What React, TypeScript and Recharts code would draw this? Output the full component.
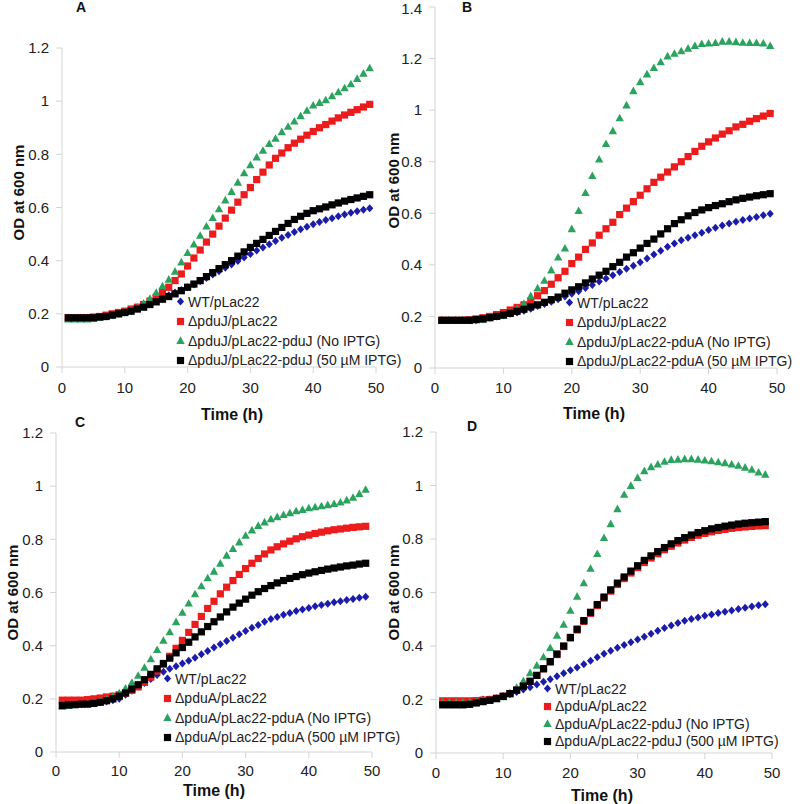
import { ScatterChart, Scatter, XAxis, YAxis, Legend, Label } from 'recharts'

// sampling times (h)
const HOURS = [
  1, 2, 3, 4, 5, 6, 7, 8, 9, 10, 11, 12, 13, 14, 15, 16, 17, 18, 19, 20, 21, 22, 23, 24, 25,
  26, 27, 28, 29, 30, 31, 32, 33, 34, 35, 36, 37, 38, 39, 40, 41, 42, 43, 44, 45, 46, 47, 48, 49,
]

const X_TICKS = [0, 10, 20, 30, 40, 50]
const Y_TICKS_12 = [0, 0.2, 0.4, 0.6, 0.8, 1, 1.2]
const Y_TICKS_14 = [0, 0.2, 0.4, 0.6, 0.8, 1, 1.2, 1.4]

// Panel A
const A_NAMES = ['WT/pLac22', 'ΔpduJ/pLac22', 'ΔpduJ/pLac22-pduJ (No IPTG)', 'ΔpduJ/pLac22-pduJ (50 µM IPTG)']
const A_WT = [0.185, 0.185, 0.185, 0.185, 0.185, 0.187, 0.19, 0.195, 0.2, 0.205, 0.21, 0.22, 0.23, 0.24, 0.25, 0.26, 0.27, 0.28, 0.29, 0.3, 0.31, 0.323, 0.335, 0.348, 0.36, 0.373, 0.386, 0.399, 0.412, 0.425, 0.438, 0.45, 0.462, 0.474, 0.486, 0.497, 0.508, 0.518, 0.528, 0.537, 0.545, 0.553, 0.56, 0.567, 0.574, 0.58, 0.586, 0.592, 0.597]
const A_DEL = [0.185, 0.185, 0.185, 0.185, 0.188, 0.19, 0.195, 0.2, 0.205, 0.21, 0.218, 0.225, 0.235, 0.248, 0.262, 0.28, 0.3, 0.325, 0.35, 0.38, 0.41, 0.44, 0.47, 0.5, 0.53, 0.56, 0.59, 0.62, 0.648, 0.675, 0.705, 0.733, 0.76, 0.785, 0.805, 0.825, 0.842, 0.857, 0.872, 0.886, 0.9, 0.912, 0.925, 0.937, 0.948, 0.958, 0.968, 0.978, 0.988]
const A_NO = [0.18, 0.18, 0.18, 0.18, 0.183, 0.187, 0.19, 0.195, 0.2, 0.207, 0.215, 0.225, 0.24, 0.258, 0.28, 0.305, 0.33, 0.36, 0.395, 0.43, 0.462, 0.495, 0.53, 0.562, 0.595, 0.628, 0.66, 0.695, 0.73, 0.76, 0.79, 0.815, 0.84, 0.86, 0.885, 0.905, 0.925, 0.945, 0.965, 0.985, 0.995, 1.005, 1.02, 1.035, 1.05, 1.065, 1.085, 1.105, 1.125]
const A_IPTG = [0.185, 0.185, 0.185, 0.185, 0.185, 0.188, 0.19, 0.195, 0.2, 0.205, 0.21, 0.218, 0.225, 0.235, 0.245, 0.255, 0.265, 0.275, 0.287, 0.3, 0.312, 0.325, 0.34, 0.355, 0.37, 0.385, 0.4, 0.417, 0.433, 0.45, 0.465, 0.48, 0.495, 0.51, 0.525, 0.54, 0.555, 0.567, 0.578, 0.588, 0.595, 0.602, 0.61, 0.617, 0.624, 0.63, 0.636, 0.642, 0.648]

// Panel B
const B_NAMES = ['WT/pLac22', 'ΔpduJ/pLac22', 'ΔpduJ/pLac22-pduA (No IPTG)', 'ΔpduJ/pLac22-pduA (50 µM IPTG)']
const B_WT = [0.185, 0.185, 0.185, 0.185, 0.185, 0.185, 0.19, 0.195, 0.2, 0.205, 0.21, 0.215, 0.222, 0.23, 0.24, 0.248, 0.257, 0.267, 0.277, 0.288, 0.298, 0.31, 0.322, 0.335, 0.347, 0.36, 0.372, 0.385, 0.397, 0.41, 0.425, 0.44, 0.455, 0.47, 0.483, 0.495, 0.505, 0.515, 0.525, 0.535, 0.544, 0.553, 0.56, 0.567, 0.574, 0.58, 0.586, 0.592, 0.598]
const B_DEL = [0.185, 0.185, 0.185, 0.185, 0.187, 0.19, 0.195, 0.2, 0.207, 0.215, 0.225, 0.235, 0.245, 0.26, 0.28, 0.3, 0.325, 0.35, 0.375, 0.405, 0.43, 0.46, 0.485, 0.515, 0.54, 0.565, 0.595, 0.62, 0.645, 0.67, 0.695, 0.72, 0.74, 0.76, 0.78, 0.8, 0.82, 0.84, 0.86, 0.877, 0.892, 0.907, 0.92, 0.935, 0.945, 0.957, 0.967, 0.977, 0.987]
const B_NO = [0.185, 0.185, 0.185, 0.185, 0.185, 0.187, 0.19, 0.195, 0.2, 0.205, 0.215, 0.23, 0.25, 0.28, 0.31, 0.34, 0.38, 0.43, 0.465, 0.54, 0.61, 0.68, 0.746, 0.81, 0.87, 0.92, 0.97, 1.02, 1.075, 1.11, 1.14, 1.165, 1.187, 1.21, 1.22, 1.23, 1.24, 1.25, 1.258, 1.26, 1.262, 1.267, 1.267, 1.265, 1.263, 1.262, 1.262, 1.26, 1.25]
const B_IPTG = [0.185, 0.185, 0.185, 0.185, 0.185, 0.188, 0.19, 0.195, 0.2, 0.205, 0.212, 0.22, 0.228, 0.237, 0.245, 0.255, 0.265, 0.275, 0.29, 0.303, 0.315, 0.33, 0.345, 0.36, 0.375, 0.393, 0.41, 0.43, 0.447, 0.465, 0.483, 0.5, 0.52, 0.54, 0.56, 0.575, 0.59, 0.603, 0.613, 0.622, 0.63, 0.637, 0.645, 0.652, 0.658, 0.663, 0.668, 0.672, 0.676]

// Panel C
const C_NAMES = ['WT/pLac22', 'ΔpduA/pLac22', 'ΔpduA/pLac22-pduA (No IPTG)', 'ΔpduA/pLac22-pduA (500 µM IPTG)']
const C_WT = [0.18, 0.18, 0.18, 0.18, 0.182, 0.185, 0.188, 0.19, 0.195, 0.2, 0.215, 0.23, 0.245, 0.26, 0.275, 0.29, 0.302, 0.313, 0.323, 0.333, 0.343, 0.355, 0.368, 0.38, 0.393, 0.405, 0.418, 0.43, 0.443, 0.455, 0.467, 0.478, 0.49, 0.5, 0.508, 0.516, 0.523, 0.53, 0.536, 0.542, 0.548, 0.553, 0.558, 0.563, 0.567, 0.572, 0.576, 0.58, 0.584]
const C_DEL = [0.195, 0.195, 0.195, 0.195, 0.197, 0.2, 0.203, 0.207, 0.21, 0.215, 0.222, 0.232, 0.245, 0.262, 0.282, 0.305, 0.33, 0.36, 0.39, 0.42, 0.45, 0.48, 0.51, 0.54, 0.567, 0.595, 0.62, 0.645, 0.668, 0.69, 0.71, 0.728, 0.745, 0.76, 0.772, 0.783, 0.793, 0.802, 0.81, 0.816, 0.822, 0.827, 0.832, 0.836, 0.839, 0.842, 0.845, 0.847, 0.849]
const C_NO = [0.172, 0.175, 0.178, 0.18, 0.183, 0.187, 0.192, 0.2, 0.21, 0.222, 0.24, 0.262, 0.288, 0.318, 0.35, 0.385, 0.42, 0.452, 0.49, 0.525, 0.56, 0.595, 0.625, 0.655, 0.68, 0.71, 0.74, 0.765, 0.79, 0.815, 0.835, 0.852, 0.865, 0.877, 0.885, 0.893, 0.9, 0.907, 0.912, 0.918, 0.922, 0.926, 0.93, 0.934, 0.94, 0.948, 0.958, 0.972, 0.988]
const C_IPTG = [0.175, 0.177, 0.178, 0.18, 0.18, 0.183, 0.187, 0.193, 0.2, 0.21, 0.222, 0.237, 0.253, 0.272, 0.292, 0.313, 0.333, 0.353, 0.373, 0.393, 0.413, 0.433, 0.452, 0.472, 0.49, 0.508, 0.527, 0.545, 0.56, 0.575, 0.59, 0.603, 0.615, 0.626, 0.636, 0.645, 0.653, 0.66, 0.667, 0.673, 0.678, 0.683, 0.688, 0.692, 0.696, 0.7, 0.703, 0.707, 0.71]

// Panel D
const D_NAMES = ['WT/pLac22', 'ΔpduA/pLac22', 'ΔpduA/pLac22-pduJ (No IPTG)', 'ΔpduA/pLac22-pduJ (500 µM IPTG)']
const D_WT = [0.185, 0.185, 0.185, 0.185, 0.185, 0.19, 0.2, 0.2, 0.205, 0.212, 0.22, 0.228, 0.237, 0.246, 0.256, 0.266, 0.276, 0.287, 0.298, 0.309, 0.32, 0.332, 0.345, 0.358, 0.371, 0.382, 0.393, 0.404, 0.414, 0.424, 0.435, 0.446, 0.457, 0.467, 0.477, 0.486, 0.494, 0.501, 0.507, 0.513, 0.518, 0.523, 0.528, 0.533, 0.538, 0.543, 0.548, 0.552, 0.556]
const D_DEL = [0.195, 0.195, 0.195, 0.195, 0.195, 0.196, 0.198, 0.2, 0.205, 0.212, 0.222, 0.235, 0.25, 0.268, 0.29, 0.315, 0.34, 0.368, 0.398, 0.43, 0.46, 0.492, 0.522, 0.551, 0.579, 0.605, 0.63, 0.652, 0.673, 0.693, 0.712, 0.729, 0.745, 0.76, 0.773, 0.785, 0.796, 0.806, 0.814, 0.821, 0.827, 0.832, 0.836, 0.84, 0.843, 0.845, 0.847, 0.849, 0.85]
const D_NO = [0.19, 0.19, 0.19, 0.19, 0.19, 0.192, 0.195, 0.198, 0.203, 0.21, 0.225, 0.245, 0.27, 0.3, 0.328, 0.359, 0.394, 0.44, 0.481, 0.533, 0.586, 0.636, 0.69, 0.745, 0.805, 0.857, 0.913, 0.967, 1.0, 1.03, 1.055, 1.07, 1.08, 1.09, 1.097, 1.098, 1.1, 1.1, 1.098, 1.095, 1.092, 1.088, 1.085, 1.08, 1.075, 1.068, 1.06, 1.05, 1.042]
const D_IPTG = [0.18, 0.18, 0.18, 0.18, 0.182, 0.187, 0.192, 0.197, 0.203, 0.212, 0.222, 0.235, 0.25, 0.268, 0.29, 0.315, 0.342, 0.37, 0.4, 0.432, 0.463, 0.495, 0.526, 0.555, 0.583, 0.61, 0.635, 0.658, 0.68, 0.7, 0.72, 0.737, 0.753, 0.768, 0.782, 0.794, 0.805, 0.815, 0.824, 0.831, 0.838, 0.843, 0.848, 0.852, 0.856, 0.859, 0.861, 0.863, 0.865]

const FONT = '"Liberation Sans", Arial, sans-serif'
const AXIS_GREY = '#d4d4d4'
const COLORS = ['#1c1caa', '#ec1c1c', '#2ba35e', '#000000']
const SHAPES = ['diamond', 'square', 'triangle', 'square']

function Marker({ kind, cx, cy, fill }: { kind: string; cx: number; cy: number; fill: string }) {
  if (kind === 'diamond') {
    return <polygon points={`${cx},${cy - 4} ${cx + 3.6},${cy} ${cx},${cy + 4} ${cx - 3.6},${cy}`} fill={fill} />
  }
  if (kind === 'triangle') {
    return <polygon points={`${cx},${cy - 4.2} ${cx + 4.2},${cy + 3.4} ${cx - 4.2},${cy + 3.4}`} fill={fill} />
  }
  return <rect x={cx - 3.6} y={cy - 3.6} width={7.2} height={7.2} fill={fill} />
}

const shapeFor = (kind: string, fill: string) => (props: any) =>
  props.cx == null ? <g /> : <Marker kind={kind} cx={props.cx} cy={props.cy} fill={fill} />

const fmt = (v: number) => String(Number(v.toFixed(1)))

interface PanelProps {
  letter: string
  letterPos: [number, number]
  box: { x: number; y: number; w: number; h: number }
  top: number
  right: number
  yAxisW: number
  xAxisH: number
  yMax: number
  yTicks: number[]
  names: string[]
  series: number[][]
  tickGap: number
  xTitle: [number, number]
  yTitle: [number, number]
  legend: { left: number; top: number; step: number }
}

function Panel(p: PanelProps) {
  const renderXTitle = (props: any) => {
    const vb = props.viewBox || {}
    return (
      <text
        x={vb.x + vb.width / 2 + p.xTitle[0]}
        y={vb.y + p.xTitle[1]}
        textAnchor="middle"
        dominantBaseline="central"
        fontFamily={FONT}
        fontWeight="bold"
        fontSize={16}
        fill="#111"
      >
        Time (h)
      </text>
    )
  }
  const renderYTitle = (props: any) => {
    const vb = props.viewBox || {}
    const cx = vb.x + p.yTitle[0]
    const cy = vb.y + vb.height / 2 + p.yTitle[1]
    return (
      <text
        x={cx}
        y={cy}
        transform={`rotate(-90 ${cx} ${cy})`}
        textAnchor="middle"
        dominantBaseline="central"
        fontFamily={FONT}
        fontWeight="bold"
        fontSize={15}
        fill="#111"
      >
        OD at 600 nm
      </text>
    )
  }

  const renderLegend = () => (
    <div style={{ fontFamily: FONT, fontSize: 14, color: '#222' }}>
      {p.names.map((name, i) => (
        <div key={name} style={{ display: 'flex', alignItems: 'center', height: p.legend.step, whiteSpace: 'nowrap' }}>
          <svg width={9} height={9} style={{ marginRight: 3 }}>
            <Marker kind={SHAPES[i]} cx={4.5} cy={4.5} fill={COLORS[i]} />
          </svg>
          <span>{name}</span>
        </div>
      ))}
    </div>
  )

  return (
    <>
      <div style={{ position: 'absolute', left: p.box.x, top: p.box.y }}>
        <ScatterChart
          width={p.box.w}
          height={p.box.h}
          margin={{ top: p.top, right: p.right, bottom: 0, left: 0 }}
        >
          <XAxis
            type="number"
            dataKey="t"
            domain={[0, 50]}
            ticks={X_TICKS}
            height={p.xAxisH}
            axisLine={{ stroke: AXIS_GREY }}
            tickLine={{ stroke: AXIS_GREY }}
            tickSize={6}
            tickMargin={p.tickGap}
            tick={{ fill: '#222', fontSize: 15, fontFamily: FONT }}
          >
            <Label content={renderXTitle} />
          </XAxis>
          <YAxis
            type="number"
            dataKey="v"
            domain={[0, p.yMax]}
            ticks={p.yTicks}
            width={p.yAxisW}
            tickFormatter={fmt}
            axisLine={{ stroke: AXIS_GREY }}
            tickLine={{ stroke: AXIS_GREY }}
            tickSize={6}
            tickMargin={7}
            tick={{ fill: '#222', fontSize: 15, fontFamily: FONT }}
          >
            <Label content={renderYTitle} />
          </YAxis>
          <Legend
            layout="vertical"
            align="center"
            verticalAlign="middle"
            content={renderLegend}
            wrapperStyle={{ left: p.legend.left - p.box.x, top: p.legend.top - p.box.y, width: 'auto', height: 'auto' }}
          />
          {p.series.map((vals, i) => (
            <Scatter
              key={p.names[i]}
              name={p.names[i]}
              data={HOURS.map((t, k) => ({ t, v: vals[k] }))}
              fill={COLORS[i]}
              shape={shapeFor(SHAPES[i], COLORS[i])}
              isAnimationActive={false}
            />
          ))}
        </ScatterChart>
      </div>
      <div
        style={{
          position: 'absolute',
          left: p.letterPos[0],
          top: p.letterPos[1],
          fontFamily: FONT,
          fontWeight: 'bold',
          fontSize: 14,
          lineHeight: '14px',
          color: '#111',
        }}
      >
        {p.letter}
      </div>
    </>
  )
}

export default function App() {
  return (
    <div style={{ position: 'absolute', left: 0, top: 0, width: 800, height: 804, background: '#fff', overflow: 'hidden' }}>
      <Panel
        letter="A"
        letterPos={[76, 0]}
        box={{ x: 0, y: 0, w: 400, h: 430 }}
        top={48}
        right={24}
        yAxisW={62}
        xAxisH={63}
        yMax={1.2}
        yTicks={Y_TICKS_12}
        names={A_NAMES}
        series={[A_WT, A_DEL, A_NO, A_IPTG]}
        tickGap={9}
        xTitle={[13, 47]}
        yTitle={[18, -15]}
        legend={{ left: 176, top: 292, step: 19.5 }}
      />
      <Panel
        letter="B"
        letterPos={[462, 0]}
        box={{ x: 360, y: 0, w: 440, h: 430 }}
        top={7}
        right={23}
        yAxisW={75}
        xAxisH={62}
        yMax={1.4}
        yTicks={Y_TICKS_14}
        names={B_NAMES}
        series={[B_WT, B_DEL, B_NO, B_IPTG]}
        tickGap={8}
        xTitle={[-12, 45]}
        yTitle={[33, -7]}
        legend={{ left: 565, top: 293, step: 19.5 }}
      />
      <Panel
        letter="C"
        letterPos={[75, 415]}
        box={{ x: 0, y: 400, w: 400, h: 404 }}
        top={33}
        right={28}
        yAxisW={56}
        xAxisH={52}
        yMax={1.2}
        yTicks={Y_TICKS_12}
        names={C_NAMES}
        series={[C_WT, C_DEL, C_NO, C_IPTG]}
        tickGap={7}
        xTitle={[0, 38]}
        yTitle={[12, 0]}
        legend={{ left: 163, top: 669, step: 19.5 }}
      />
      <Panel
        letter="D"
        letterPos={[467, 419]}
        box={{ x: 360, y: 400, w: 440, h: 404 }}
        top={32}
        right={28}
        yAxisW={76}
        xAxisH={51}
        yMax={1.2}
        yTicks={Y_TICKS_12}
        names={D_NAMES}
        series={[D_WT, D_DEL, D_NO, D_IPTG]}
        tickGap={8}
        xTitle={[-2, 42]}
        yTitle={[33, 0]}
        legend={{ left: 543, top: 680, step: 17.5 }}
      />
    </div>
  )
}
